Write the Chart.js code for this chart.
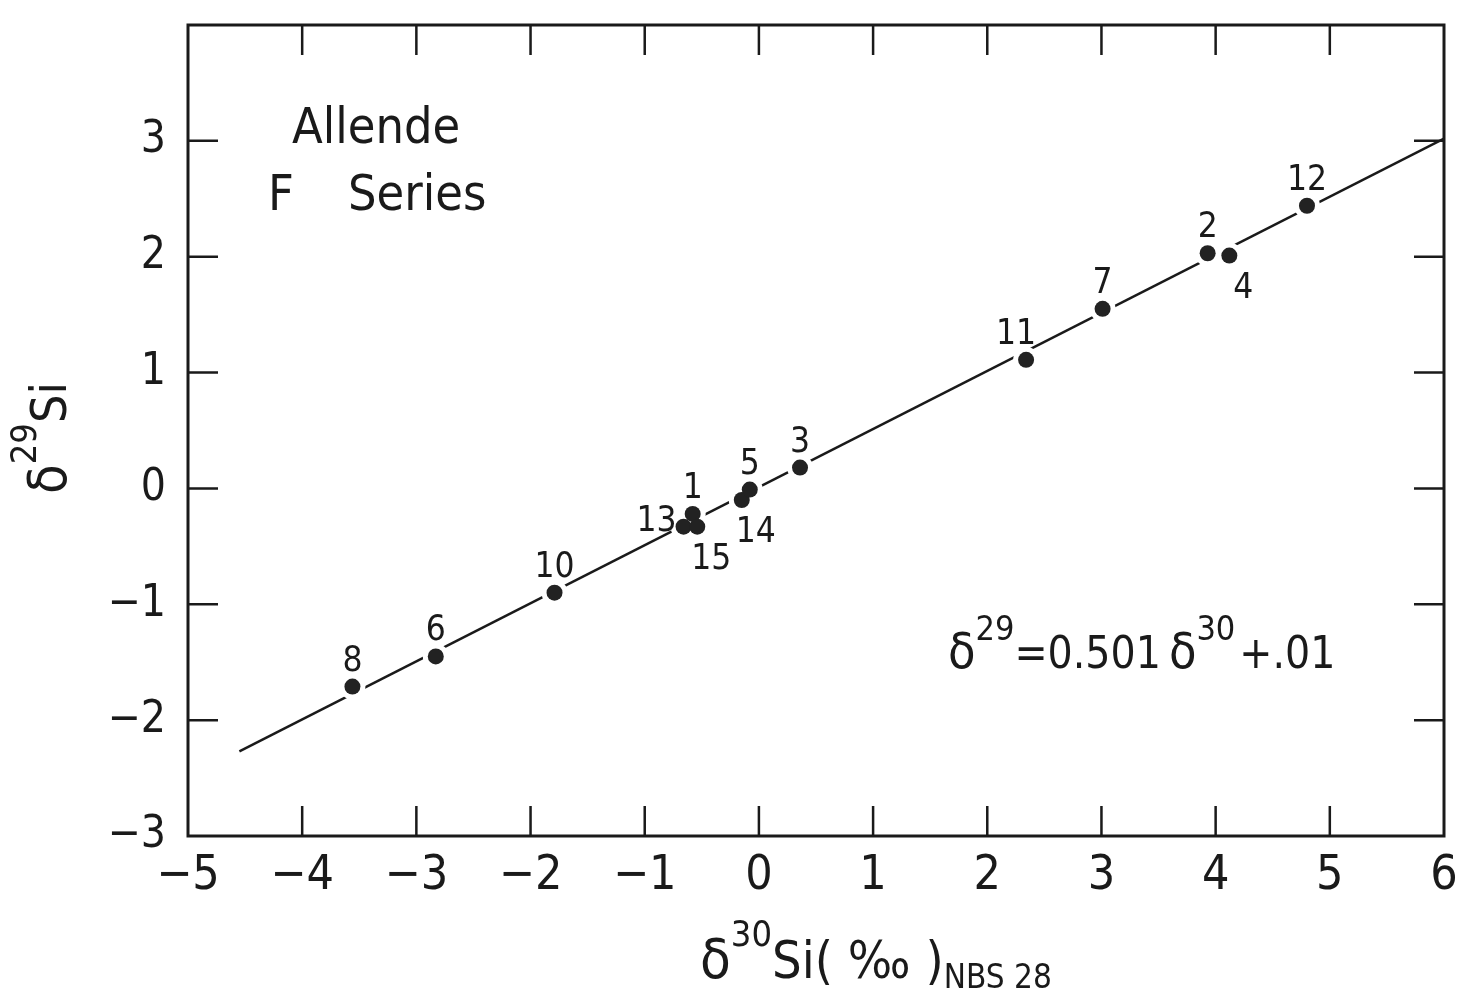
<!DOCTYPE html>
<html>
<head>
<meta charset="utf-8">
<script src="https://cdn.jsdelivr.net/npm/chart.js@4.4.1/dist/chart.umd.min.js"></script>
<style>
  html, body { margin: 0; background: #fff; }
  #wrap { width: 1468px; height: 1000px; }
</style>
</head>
<body>
<div id="wrap"><canvas id="chart"></canvas></div>
<script>
// Allende F series, silicon isotopes
const sampleIds = [8, 6, 10, 13, 1, 15, 14, 5, 3, 11, 7, 2, 4, 12];
const d30Si = [-3.56, -2.83, -1.79, -0.66, -0.58, -0.54, -0.15, -0.08, 0.36, 2.34, 3.01, 3.93, 4.12, 4.80];
const d29Si = [-1.71, -1.45, -0.90, -0.33, -0.22, -0.33, -0.10, -0.01, 0.18, 1.11, 1.55, 2.03, 2.01, 2.44];

// regression line end points (d29 = 0.501 d30 + .01)
const fitX = [-4.55, 6.0];
const fitY = [-2.27, 3.02];

const xTicks = [-5, -4, -3, -2, -1, 0, 1, 2, 3, 4, 5, 6];
const yTicks = [-3, -2, -1, 0, 1, 2, 3];

const FONT = "'DejaVu Sans Condensed', 'Liberation Sans Narrow', 'DejaVu Sans', sans-serif";
const INK = '#1a1a1a';

// where the number sits relative to its dot (default is above)
const labelSide = { 13: 'left', 15: 'below', 14: 'below', 4: 'below', 11: 'aboveLeft' };

const minus = v => (v < 0 ? '\u2212' + Math.abs(v) : String(v));

// draw a run of text pieces with different sizes / baselines
function richText(ctx, x, y, parts) {
  parts.forEach(p => {
    ctx.font = p.size + 'px ' + FONT;
    ctx.fillText(p.t, x, y + (p.dy || 0));
    x += ctx.measureText(p.t).width + (p.gap || 0);
  });
}

const framePlugin = {
  id: 'frame',
  beforeDatasetDraw(chart, args) {
    if (args.index !== 0) return;
    // white halo so the fit line breaks around each dot
    const ctx = chart.ctx;
    ctx.save();
    ctx.fillStyle = '#fff';
    chart.getDatasetMeta(0).data.forEach(pt => {
      ctx.beginPath();
      ctx.arc(pt.x, pt.y, 13, 0, Math.PI * 2);
      ctx.fill();
    });
    ctx.restore();
  },
  afterDraw(chart) {
    const ctx = chart.ctx;
    const a = chart.chartArea;
    const xs = chart.scales.x, ys = chart.scales.y;
    ctx.save();
    ctx.strokeStyle = INK;
    ctx.lineWidth = 3;
    ctx.strokeRect(a.left, a.top, a.right - a.left, a.bottom - a.top);

    // inward ticks on all four sides
    ctx.lineWidth = 2.5;
    const tl = 30;
    xTicks.slice(1, -1).forEach(v => {
      const px = xs.getPixelForValue(v);
      ctx.beginPath();
      ctx.moveTo(px, a.bottom); ctx.lineTo(px, a.bottom - tl);
      ctx.moveTo(px, a.top); ctx.lineTo(px, a.top + tl);
      ctx.stroke();
    });
    yTicks.slice(1).forEach(v => {
      const py = ys.getPixelForValue(v);
      ctx.beginPath();
      ctx.moveTo(a.left, py); ctx.lineTo(a.left + tl, py);
      ctx.moveTo(a.right, py); ctx.lineTo(a.right - tl, py);
      ctx.stroke();
    });

    // sample numbers
    ctx.fillStyle = INK;
    ctx.font = '35px ' + FONT;
    ctx.textAlign = 'center';
    ctx.textBaseline = 'alphabetic';
    chart.getDatasetMeta(0).data.forEach((pt, i) => {
      const id = sampleIds[i];
      const side = labelSide[id] || 'above';
      let x = pt.x, y = pt.y - 16;
      if (side === 'left') { x = pt.x - 27; y = pt.y + 4; }
      if (side === 'below') { x = pt.x + 14; y = pt.y + 42; }
      if (side === 'aboveLeft') { x = pt.x - 10; y = pt.y - 16; }
      ctx.fillText(String(id), x, y);
    });

    // text in the panel
    ctx.textAlign = 'left';
    ctx.font = '50px ' + FONT;
    ctx.fillText('Allende', 292, 143);
    ctx.fillText('F', 268, 210);
    ctx.fillText('Series', 348, 210);

    richText(ctx, 948, 668, [
      { t: '\u03b4', size: 50 },
      { t: '29', size: 34, dy: -28 },
      { t: '=0.501', size: 44, gap: 8 },
      { t: '\u03b4', size: 50 },
      { t: '30', size: 34, dy: -28, gap: 4 },
      { t: '+.01', size: 44 }
    ]);

    // axis titles
    richText(ctx, 700, 978, [
      { t: '\u03b4', size: 56 },
      { t: '30', size: 36, dy: -32 },
      { t: 'Si( \u2030 )', size: 52 },
      { t: 'NBS 28', size: 33, dy: 10 }
    ]);

    ctx.translate(66, 494);
    ctx.rotate(-Math.PI / 2);
    richText(ctx, 0, 0, [
      { t: '\u03b4', size: 54 },
      { t: '29', size: 36, dy: -30 },
      { t: 'Si', size: 50 }
    ]);
    ctx.restore();
  }
};

const ctx = document.getElementById('chart').getContext('2d');
const chart = new Chart(ctx, {
  type: 'scatter',
  data: {
    datasets: [
      {
        label: 'F series',
        data: d30Si.map((x, i) => ({ x: x, y: d29Si[i] })),
        backgroundColor: '#222',
        borderWidth: 0,
        pointRadius: 8,
        pointHoverRadius: 8
      },
      {
        label: 'fit',
        data: fitX.map((x, i) => ({ x: x, y: fitY[i] })),
        showLine: true,
        borderColor: INK,
        borderWidth: 2.5,
        pointRadius: 0
      }
    ]
  },
  options: {
    responsive: true,
    maintainAspectRatio: false,
    animation: false,
    layout: { padding: { top: 25, right: 24, left: 0, bottom: 0 } },
    plugins: { legend: { display: false }, tooltip: { enabled: false } },
    scales: {
      x: {
        type: 'linear',
        min: -5, max: 6,
        afterBuildTicks: s => { s.ticks = xTicks.map(v => ({ value: v })); },
        afterFit: s => { s.height = 164; s.paddingLeft = 0; s.paddingRight = 0; },
        grid: { display: false, drawTicks: false },
        border: { display: false },
        ticks: { color: INK, padding: 12, font: { family: FONT, size: 48 }, callback: v => minus(v) }
      },
      y: {
        type: 'linear',
        min: -3, max: 4,
        afterBuildTicks: s => { s.ticks = yTicks.map(v => ({ value: v })); },
        afterFit: s => { s.width = 188; s.paddingTop = 0; s.paddingBottom = 0; },
        grid: { display: false, drawTicks: false },
        border: { display: false },
        ticks: { color: INK, padding: 22, font: { family: FONT, size: 44 }, callback: v => minus(v) }
      }
    }
  },
  plugins: [framePlugin]
});
</script>
</body>
</html>
